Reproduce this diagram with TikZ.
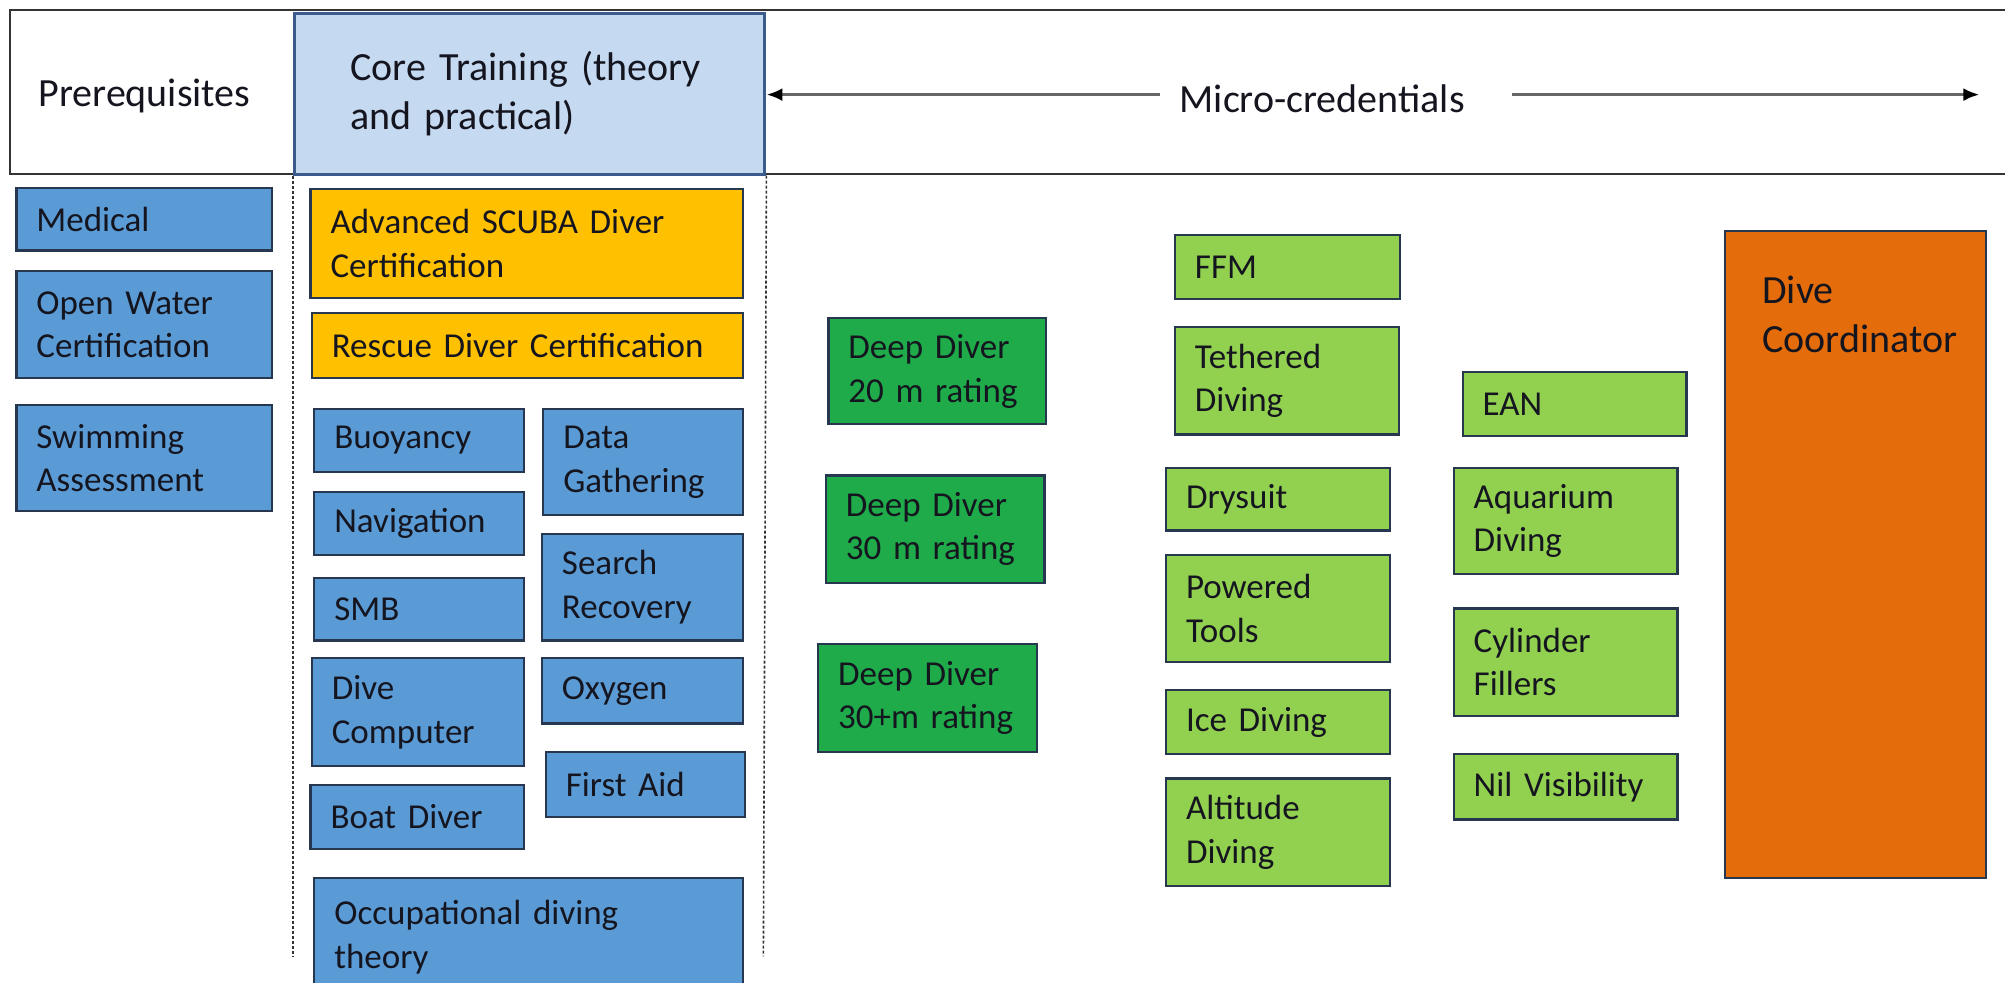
\documentclass[tikz,border=0pt]{standalone}
\usepackage{fontspec}
\setmainfont{Carlito}
\usetikzlibrary{arrows.meta}
\definecolor{bluebox}{HTML}{5B9BD5}
\definecolor{orangebox}{HTML}{FFC000}
\definecolor{darkgreen}{HTML}{1FAB4A}
\definecolor{lightgreen}{HTML}{92D050}
\definecolor{coordbox}{HTML}{E46C0A}
\definecolor{corefill}{HTML}{C5D9F0}
\definecolor{coreline}{HTML}{3B5B8C}
\definecolor{boxline}{HTML}{26374F}
\definecolor{txt}{HTML}{15151F}
\newcommand\mybox[7]{%
  \pgfmathsetmacro\myW{(#5-#3)*1.2787}%
  \pgfmathsetmacro\myH{(#6-#4)*1.2787}%
  \pgfmathsetmacro\myT{(#5-#3)*1.2787-40}%
  \node[#2, anchor=north west, minimum width=\myW pt, minimum height=\myH pt,
        text width=\myT pt] (#1) at (#3,#4) {#7};}
\begin{document}
\begin{tikzpicture}[x=1.2787pt,y=-1.2787pt,
  boxbase/.style={draw=boxline, line width=2.2pt, inner xsep=20pt, inner ysep=0pt,
     align=left, text=txt, font=\fontsize{35}{43.5}\selectfont},
  bluebx/.style={boxbase, fill=bluebox},
  orangebx/.style={boxbase, fill=orangebox},
  dgreenbx/.style={boxbase, fill=darkgreen},
  lgreenbx/.style={boxbase, fill=lightgreen},
  coordbx/.style={boxbase, fill=coordbox},
  headtxt/.style={text=txt, font=\fontsize{40}{48.6}\selectfont, inner sep=0pt, align=left},
  frame/.style={draw=black!80, line width=2.5pt},
  arr/.style={draw=black!60, line width=3.2pt, -{Latex[length=16pt,width=13pt,color=black]}},
  dashline/.style={draw=black!80, line width=1.6pt, dash pattern=on 3pt off 2pt}
]
\useasboundingbox (0,0) rectangle (1568,768);
\clip (0,0) rectangle (1568,768);
\fill[white] (0,0) rectangle (1568,768);

% header frame
\draw[frame] (1570,8) -- (8,8) -- (8,136) -- (1570,136);

% core header box
\node[draw=coreline, line width=3pt, fill=corefill, anchor=north west,
      minimum width=470.6pt, minimum height=161.1pt, text width=358.6pt,
      inner xsep=56pt, inner ysep=0pt, align=left, text=txt,
      font=\fontsize{40}{48.6}\selectfont] (core) at (229,9)
      {Core Training (theory\\and practical)};

\node[headtxt, anchor=west] (prereq) at (30,75) {Prerequisites};
\node[headtxt] (mc) at (1034,77) {Micro-credentials};
\coordinate (rend) at (1548,74);
\draw[arr, shorten <=19pt] (mc.west |- rend) -- (core.east |- rend);
\draw[arr, shorten <=47pt] (mc.east |- rend) -- (rend);

% dashed column lines
\coordinate (dl) at (229,748);
\coordinate (dr) at (597,748);
\draw[dashline] (core.south west) -- (dl);
\draw[dashline] (core.south east) -- (dr);

% prerequisites
\mybox{pmed}{bluebx}{12}{146}{212}{195}{Medical}
\mybox{pow}{bluebx}{12}{211}{212}{295}{Open Water\\Certification}
\mybox{psw}{bluebx}{12}{316}{212}{399}{Swimming\\Assessment}

% core training
\mybox{adv}{orangebx}{242}{147}{580}{232}{Advanced SCUBA Diver\\Certification}
\mybox{res}{orangebx}{243}{244}{580}{295}{Rescue Diver Certification}
\mybox{buo}{bluebx}{245}{319}{409}{368}{Buoyancy}
\mybox{dat}{bluebx}{424}{319}{580}{402}{Data\\Gathering}
\mybox{nav}{bluebx}{245}{384}{409}{433}{Navigation}
\mybox{sea}{bluebx}{423}{417}{580}{500}{Search\\Recovery}
\mybox{smb}{bluebx}{245}{451}{409}{500}{SMB}
\mybox{dco}{bluebx}{243}{514}{409}{598}{Dive\\Computer}
\mybox{oxy}{bluebx}{423}{514}{580}{565}{Oxygen}
\mybox{fa}{bluebx}{426}{587}{582}{638}{First Aid}
\mybox{boat}{bluebx}{242}{613}{409}{663}{Boat Diver}
\mybox{occ}{bluebx}{245}{686}{580}{778}{Occupational diving\\theory}

% deep diver
\mybox{dd20}{dgreenbx}{647}{248}{817}{331}{Deep Diver\\20 m rating}
\mybox{dd30}{dgreenbx}{645}{371}{816}{455}{Deep Diver\\30 m rating}
\mybox{dd30p}{dgreenbx}{639}{503}{810}{587}{Deep Diver\\30+m rating}

% micro-credentials column 1
\mybox{ffm}{lgreenbx}{918}{183}{1094}{233}{FFM}
\mybox{teth}{lgreenbx}{918}{255}{1093}{339}{Tethered\\Diving}
\mybox{dry}{lgreenbx}{911}{365}{1086}{414}{Drysuit}
\mybox{pwt}{lgreenbx}{911}{433}{1086}{517}{Powered\\Tools}
\mybox{ice}{lgreenbx}{911}{539}{1086}{589}{Ice Diving}
\mybox{alt}{lgreenbx}{911}{608}{1086}{692}{Altitude\\Diving}

% micro-credentials column 2
\mybox{ean}{lgreenbx}{1143}{290}{1318}{340}{EAN}
\mybox{aqu}{lgreenbx}{1136}{365}{1311}{448}{Aquarium\\Diving}
\mybox{cyl}{lgreenbx}{1136}{475}{1311}{559}{Cylinder\\Fillers}
\mybox{nil}{lgreenbx}{1136}{589}{1311}{640}{Nil Visibility}

% dive coordinator
\mybox{dc}{coordbx}{1348}{180}{1552}{686}{}
\node[headtxt, anchor=north west] (dctext) at (1378,216) {Dive\\Coordinator};
\end{tikzpicture}
\end{document}
